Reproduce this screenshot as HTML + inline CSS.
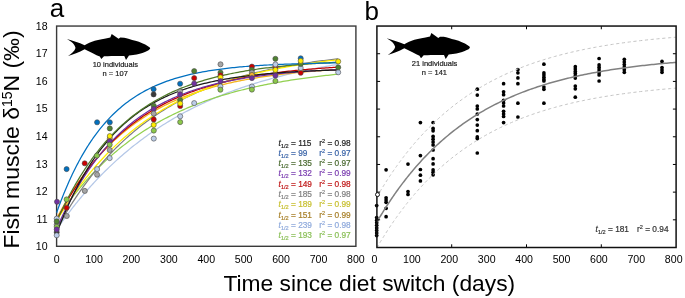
<!DOCTYPE html>
<html><head><meta charset="utf-8"><style>
html,body{margin:0;padding:0;background:#fff;overflow:hidden;}
svg{display:block;will-change:transform;}
</style></head><body>
<svg width="685" height="298" viewBox="0 0 685 298">
<rect width="685" height="298" fill="#fff"/>
<text x="49.8" y="16.7" font-size="26" font-family="Liberation Sans, sans-serif" fill="#000">a</text>
<text x="364.5" y="20" font-size="26" font-family="Liberation Sans, sans-serif" fill="#000">b</text>
<text x="47.6" y="250.10" font-size="10.6" text-anchor="end" font-family="Liberation Sans, sans-serif" fill="#000">10</text>
<text x="47.6" y="222.57" font-size="10.6" text-anchor="end" font-family="Liberation Sans, sans-serif" fill="#000">11</text>
<text x="47.6" y="195.04" font-size="10.6" text-anchor="end" font-family="Liberation Sans, sans-serif" fill="#000">12</text>
<text x="47.6" y="167.51" font-size="10.6" text-anchor="end" font-family="Liberation Sans, sans-serif" fill="#000">13</text>
<text x="47.6" y="139.98" font-size="10.6" text-anchor="end" font-family="Liberation Sans, sans-serif" fill="#000">14</text>
<text x="47.6" y="112.44" font-size="10.6" text-anchor="end" font-family="Liberation Sans, sans-serif" fill="#000">15</text>
<text x="47.6" y="84.91" font-size="10.6" text-anchor="end" font-family="Liberation Sans, sans-serif" fill="#000">16</text>
<text x="47.6" y="57.38" font-size="10.6" text-anchor="end" font-family="Liberation Sans, sans-serif" fill="#000">17</text>
<text x="47.6" y="29.85" font-size="10.6" text-anchor="end" font-family="Liberation Sans, sans-serif" fill="#000">18</text>
<text x="56.60" y="263.2" font-size="10.6" text-anchor="middle" font-family="Liberation Sans, sans-serif" fill="#000">0</text>
<text x="374.50" y="263.2" font-size="10.6" text-anchor="middle" font-family="Liberation Sans, sans-serif" fill="#000">0</text>
<text x="94.01" y="263.2" font-size="10.6" text-anchor="middle" font-family="Liberation Sans, sans-serif" fill="#000">100</text>
<text x="411.90" y="263.2" font-size="10.6" text-anchor="middle" font-family="Liberation Sans, sans-serif" fill="#000">100</text>
<text x="131.42" y="263.2" font-size="10.6" text-anchor="middle" font-family="Liberation Sans, sans-serif" fill="#000">200</text>
<text x="449.30" y="263.2" font-size="10.6" text-anchor="middle" font-family="Liberation Sans, sans-serif" fill="#000">200</text>
<text x="168.84" y="263.2" font-size="10.6" text-anchor="middle" font-family="Liberation Sans, sans-serif" fill="#000">300</text>
<text x="486.70" y="263.2" font-size="10.6" text-anchor="middle" font-family="Liberation Sans, sans-serif" fill="#000">300</text>
<text x="206.25" y="263.2" font-size="10.6" text-anchor="middle" font-family="Liberation Sans, sans-serif" fill="#000">400</text>
<text x="524.10" y="263.2" font-size="10.6" text-anchor="middle" font-family="Liberation Sans, sans-serif" fill="#000">400</text>
<text x="243.66" y="263.2" font-size="10.6" text-anchor="middle" font-family="Liberation Sans, sans-serif" fill="#000">500</text>
<text x="561.50" y="263.2" font-size="10.6" text-anchor="middle" font-family="Liberation Sans, sans-serif" fill="#000">500</text>
<text x="281.07" y="263.2" font-size="10.6" text-anchor="middle" font-family="Liberation Sans, sans-serif" fill="#000">600</text>
<text x="598.90" y="263.2" font-size="10.6" text-anchor="middle" font-family="Liberation Sans, sans-serif" fill="#000">600</text>
<text x="318.49" y="263.2" font-size="10.6" text-anchor="middle" font-family="Liberation Sans, sans-serif" fill="#000">700</text>
<text x="636.30" y="263.2" font-size="10.6" text-anchor="middle" font-family="Liberation Sans, sans-serif" fill="#000">700</text>
<text x="355.90" y="263.2" font-size="10.6" text-anchor="middle" font-family="Liberation Sans, sans-serif" fill="#000">800</text>
<text x="673.70" y="263.2" font-size="10.6" text-anchor="middle" font-family="Liberation Sans, sans-serif" fill="#000">800</text>
<text x="223.4" y="290.5" font-size="22.8" font-family="Liberation Sans, sans-serif" fill="#000">Time since diet switch (days)</text>
<text transform="translate(19.3,248.6) rotate(-90)" font-size="22.95" font-family="Liberation Sans, sans-serif" fill="#000">Fish muscle δ<tspan font-size="14" dy="-7.2">15</tspan><tspan dy="7.2">N (‰)</tspan></text>
<path d="M66.9,39.1 C72,40.4 79,42.8 84.6,45.2 C87.5,43.6 91,41.7 94.7,40.7 C99,39.6 104,38.8 110.3,37.5 L111.7,34.0 L118.6,38.8 L120.3,37.6 L124.1,37.7 C127,38.4 131,39.6 135.4,40.7 C140,42 145,44 147.6,46 C149.2,47 150.1,47.6 150.2,48.3 C149.9,49.4 149,50 147.6,50.7 C146,51.7 144,52.4 142.4,52.9 C139,54 135,54.8 129.0,55.4 L126.0,60.0 L124.3,56 C119,55.9 112,55.9 104,56.2 L101.3,59.1 L99.8,56.6 C96,55 90,51.8 84.6,49.2 C79,52.2 73,54.6 68.0,55.9 C71.5,53.6 74.8,51 75.5,47.9 C75,44.8 71.5,41.4 66.9,39.1 Z" transform="translate(0,0)" fill="#000"/>
<text x="115.4" y="66.6" font-size="7.5" text-anchor="middle" font-family="Liberation Sans, sans-serif" fill="#222" stroke="#222" stroke-width="0.2">10 individuals</text>
<text x="115.2" y="75.6" font-size="7.5" text-anchor="middle" font-family="Liberation Sans, sans-serif" fill="#222" stroke="#222" stroke-width="0.2">n = 107</text>
<path d="M66.9,39.1 C72,40.4 79,42.8 84.6,45.2 C87.5,43.6 91,41.7 94.7,40.7 C99,39.6 104,38.8 110.3,37.5 L111.7,34.0 L118.6,38.8 L120.3,37.6 L124.1,37.7 C127,38.4 131,39.6 135.4,40.7 C140,42 145,44 147.6,46 C149.2,47 150.1,47.6 150.2,48.3 C149.9,49.4 149,50 147.6,50.7 C146,51.7 144,52.4 142.4,52.9 C139,54 135,54.8 129.0,55.4 L126.0,60.0 L124.3,56 C119,55.9 112,55.9 104,56.2 L101.3,59.1 L99.8,56.6 C96,55 90,51.8 84.6,49.2 C79,52.2 73,54.6 68.0,55.9 C71.5,53.6 74.8,51 75.5,47.9 C75,44.8 71.5,41.4 66.9,39.1 Z" transform="translate(319.7,-0.9)" fill="#000"/>
<text x="434.6" y="66.1" font-size="7.5" text-anchor="middle" font-family="Liberation Sans, sans-serif" fill="#222" stroke="#222" stroke-width="0.2">21 individuals</text>
<text x="434.4" y="75.0" font-size="7.5" text-anchor="middle" font-family="Liberation Sans, sans-serif" fill="#222" stroke="#222" stroke-width="0.2">n = 141</text>
<rect x="56.6" y="26.05" width="299.30" height="220.25" fill="none" stroke="#3a3a3a" stroke-width="1.4"/>
<g fill="none" stroke-width="1.25" stroke-linejoin="round">
<path d="M56.60,229.51 L57.35,228.43 L58.10,227.36 L58.84,226.30 L59.59,225.24 L60.34,224.19 L61.09,223.14 L61.84,222.10 L62.59,221.07 L63.33,220.04 L64.08,219.02 L64.83,218.00 L65.58,216.99 L66.33,215.99 L67.08,214.99 L67.82,214.00 L68.57,213.01 L69.32,212.03 L70.07,211.05 L70.82,210.08 L71.56,209.12 L72.31,208.16 L73.06,207.21 L73.81,206.26 L74.56,205.32 L75.31,204.38 L76.05,203.45 L76.80,202.53 L77.55,201.61 L78.30,200.69 L79.05,199.78 L79.80,198.88 L80.54,197.98 L81.29,197.08 L82.04,196.19 L82.79,195.31 L83.54,194.43 L84.29,193.56 L85.03,192.69 L85.78,191.83 L86.53,190.97 L87.28,190.12 L88.03,189.27 L88.77,188.42 L89.52,187.58 L90.27,186.75 L91.02,185.92 L91.77,185.10 L92.52,184.28 L93.26,183.46 L94.01,182.65 L95.88,180.65 L97.75,178.67 L99.62,176.72 L101.49,174.80 L103.37,172.91 L105.24,171.05 L107.11,169.21 L108.98,167.40 L110.85,165.61 L112.72,163.85 L114.59,162.12 L116.46,160.41 L118.33,158.73 L120.20,157.07 L122.07,155.43 L123.94,153.82 L125.81,152.23 L127.68,150.66 L129.55,149.12 L131.42,147.59 L133.30,146.09 L135.17,144.62 L137.04,143.16 L138.91,141.72 L140.78,140.31 L142.65,138.91 L144.52,137.54 L146.39,136.18 L148.26,134.85 L150.13,133.53 L152.00,132.23 L153.87,130.95 L155.74,129.69 L157.61,128.45 L159.48,127.22 L161.35,126.02 L163.23,124.83 L165.10,123.66 L166.97,122.50 L168.84,121.36 L170.71,120.24 L172.58,119.13 L174.45,118.04 L176.32,116.97 L178.19,115.91 L180.06,114.86 L181.93,113.84 L183.80,112.82 L185.67,111.82 L187.54,110.84 L189.41,109.87 L191.28,108.91 L193.16,107.97 L195.03,107.04 L196.90,106.12 L198.77,105.22 L200.64,104.33 L202.51,103.45 L204.38,102.59 L206.25,101.73 L208.12,100.89 L209.99,100.07 L211.86,99.25 L213.73,98.45 L215.60,97.65 L217.47,96.87 L219.34,96.10 L221.21,95.34 L223.09,94.60 L224.96,93.86 L226.83,93.13 L228.70,92.42 L230.57,91.71 L232.44,91.01 L234.31,90.33 L236.18,89.65 L238.05,88.99 L239.92,88.33 L241.79,87.68 L243.66,87.05 L245.53,86.42 L247.40,85.80 L249.27,85.19 L251.14,84.59 L253.02,83.99 L254.89,83.41 L256.76,82.83 L258.63,82.27 L260.50,81.71 L262.37,81.15 L264.24,80.61 L266.11,80.07 L267.98,79.55 L269.85,79.03 L271.72,78.51 L273.59,78.01 L275.46,77.51 L277.33,77.02 L279.20,76.53 L281.07,76.06 L282.95,75.59 L284.82,75.12 L286.69,74.67 L288.56,74.22 L290.43,73.77 L292.30,73.34 L294.17,72.90 L296.04,72.48 L297.91,72.06 L299.78,71.65 L301.65,71.24 L303.52,70.84 L305.39,70.45 L307.26,70.06 L309.13,69.67 L311.00,69.29 L312.88,68.92 L314.75,68.55 L316.62,68.19 L318.49,67.83 L320.36,67.48 L322.23,67.14 L324.10,66.79 L325.97,66.46 L327.84,66.13 L329.71,65.80 L331.58,65.48 L333.45,65.16 L335.32,64.84 L337.19,64.54 L337.94,64.41" stroke="#b4c7e7"/>
<path d="M56.60,219.04 L57.35,217.93 L58.10,216.83 L58.84,215.73 L59.59,214.65 L60.34,213.57 L61.09,212.49 L61.84,211.43 L62.59,210.37 L63.33,209.32 L64.08,208.28 L64.83,207.25 L65.58,206.22 L66.33,205.20 L67.08,204.19 L67.82,203.18 L68.57,202.19 L69.32,201.20 L70.07,200.21 L70.82,199.24 L71.56,198.27 L72.31,197.30 L73.06,196.35 L73.81,195.40 L74.56,194.46 L75.31,193.52 L76.05,192.59 L76.80,191.67 L77.55,190.75 L78.30,189.85 L79.05,188.94 L79.80,188.05 L80.54,187.16 L81.29,186.28 L82.04,185.40 L82.79,184.53 L83.54,183.66 L84.29,182.81 L85.03,181.95 L85.78,181.11 L86.53,180.27 L87.28,179.43 L88.03,178.61 L88.77,177.78 L89.52,176.97 L90.27,176.16 L91.02,175.35 L91.77,174.55 L92.52,173.76 L93.26,172.97 L94.01,172.19 L95.88,170.26 L97.75,168.37 L99.62,166.51 L101.49,164.68 L103.37,162.88 L105.24,161.12 L107.11,159.39 L108.98,157.68 L110.85,156.01 L112.72,154.37 L114.59,152.76 L116.46,151.17 L118.33,149.62 L120.20,148.09 L122.07,146.59 L123.94,145.12 L125.81,143.67 L127.68,142.25 L129.55,140.85 L131.42,139.48 L133.30,138.13 L135.17,136.81 L137.04,135.51 L138.91,134.23 L140.78,132.98 L142.65,131.75 L144.52,130.54 L146.39,129.35 L148.26,128.18 L150.13,127.03 L152.00,125.91 L153.87,124.80 L155.74,123.72 L157.61,122.65 L159.48,121.60 L161.35,120.57 L163.23,119.56 L165.10,118.57 L166.97,117.59 L168.84,116.63 L170.71,115.69 L172.58,114.77 L174.45,113.86 L176.32,112.97 L178.19,112.09 L180.06,111.23 L181.93,110.39 L183.80,109.56 L185.67,108.75 L187.54,107.94 L189.41,107.16 L191.28,106.39 L193.16,105.63 L195.03,104.88 L196.90,104.15 L198.77,103.43 L200.64,102.73 L202.51,102.03 L204.38,101.35 L206.25,100.68 L208.12,100.03 L209.99,99.38 L211.86,98.75 L213.73,98.12 L215.60,97.51 L217.47,96.91 L219.34,96.32 L221.21,95.74 L223.09,95.17 L224.96,94.62 L226.83,94.07 L228.70,93.53 L230.57,93.00 L232.44,92.48 L234.31,91.97 L236.18,91.46 L238.05,90.97 L239.92,90.49 L241.79,90.01 L243.66,89.54 L245.53,89.09 L247.40,88.64 L249.27,88.19 L251.14,87.76 L253.02,87.33 L254.89,86.91 L256.76,86.50 L258.63,86.10 L260.50,85.70 L262.37,85.31 L264.24,84.92 L266.11,84.55 L267.98,84.18 L269.85,83.81 L271.72,83.46 L273.59,83.11 L275.46,82.76 L277.33,82.43 L279.20,82.09 L281.07,81.77 L282.95,81.45 L284.82,81.13 L286.69,80.82 L288.56,80.52 L290.43,80.22 L292.30,79.93 L294.17,79.64 L296.04,79.36 L297.91,79.08 L299.78,78.81 L301.65,78.54 L303.52,78.28 L305.39,78.02 L307.26,77.77 L309.13,77.52 L311.00,77.27 L312.88,77.03 L314.75,76.80 L316.62,76.56 L318.49,76.34 L320.36,76.11 L322.23,75.89 L324.10,75.68 L325.97,75.47 L327.84,75.26 L329.71,75.05 L331.58,74.85 L333.45,74.65 L335.32,74.46 L337.19,74.27 L337.94,74.20" stroke="#92d050"/>
<path d="M56.60,229.23 L57.35,227.88 L58.10,226.54 L58.84,225.20 L59.59,223.88 L60.34,222.57 L61.09,221.27 L61.84,219.97 L62.59,218.69 L63.33,217.42 L64.08,216.15 L64.83,214.90 L65.58,213.65 L66.33,212.42 L67.08,211.19 L67.82,209.97 L68.57,208.76 L69.32,207.56 L70.07,206.37 L70.82,205.19 L71.56,204.02 L72.31,202.85 L73.06,201.70 L73.81,200.55 L74.56,199.41 L75.31,198.28 L76.05,197.16 L76.80,196.05 L77.55,194.94 L78.30,193.85 L79.05,192.76 L79.80,191.68 L80.54,190.61 L81.29,189.54 L82.04,188.49 L82.79,187.44 L83.54,186.40 L84.29,185.37 L85.03,184.34 L85.78,183.32 L86.53,182.31 L87.28,181.31 L88.03,180.32 L88.77,179.33 L89.52,178.35 L90.27,177.38 L91.02,176.41 L91.77,175.45 L92.52,174.50 L93.26,173.56 L94.01,172.62 L95.88,170.31 L97.75,168.04 L99.62,165.82 L101.49,163.63 L103.37,161.49 L105.24,159.38 L107.11,157.31 L108.98,155.29 L110.85,153.30 L112.72,151.34 L114.59,149.43 L116.46,147.55 L118.33,145.70 L120.20,143.89 L122.07,142.11 L123.94,140.37 L125.81,138.65 L127.68,136.97 L129.55,135.32 L131.42,133.70 L133.30,132.11 L135.17,130.55 L137.04,129.02 L138.91,127.52 L140.78,126.05 L142.65,124.60 L144.52,123.18 L146.39,121.79 L148.26,120.42 L150.13,119.07 L152.00,117.76 L153.87,116.46 L155.74,115.19 L157.61,113.95 L159.48,112.73 L161.35,111.53 L163.23,110.35 L165.10,109.19 L166.97,108.06 L168.84,106.95 L170.71,105.85 L172.58,104.78 L174.45,103.73 L176.32,102.69 L178.19,101.68 L180.06,100.69 L181.93,99.71 L183.80,98.75 L185.67,97.81 L187.54,96.89 L189.41,95.98 L191.28,95.09 L193.16,94.22 L195.03,93.36 L196.90,92.52 L198.77,91.70 L200.64,90.89 L202.51,90.09 L204.38,89.31 L206.25,88.55 L208.12,87.80 L209.99,87.06 L211.86,86.34 L213.73,85.63 L215.60,84.93 L217.47,84.25 L219.34,83.57 L221.21,82.92 L223.09,82.27 L224.96,81.63 L226.83,81.01 L228.70,80.40 L230.57,79.80 L232.44,79.21 L234.31,78.63 L236.18,78.07 L238.05,77.51 L239.92,76.96 L241.79,76.43 L243.66,75.90 L245.53,75.38 L247.40,74.88 L249.27,74.38 L251.14,73.89 L253.02,73.41 L254.89,72.94 L256.76,72.48 L258.63,72.03 L260.50,71.58 L262.37,71.15 L264.24,70.72 L266.11,70.30 L267.98,69.89 L269.85,69.48 L271.72,69.08 L273.59,68.69 L275.46,68.31 L277.33,67.94 L279.20,67.57 L281.07,67.21 L282.95,66.85 L284.82,66.50 L286.69,66.16 L288.56,65.82 L290.43,65.50 L292.30,65.17 L294.17,64.85 L296.04,64.54 L297.91,64.24 L299.78,63.94 L301.65,63.64 L303.52,63.35 L305.39,63.07 L307.26,62.79 L309.13,62.52 L311.00,62.25 L312.88,61.99 L314.75,61.73 L316.62,61.48 L318.49,61.23 L320.36,60.98 L322.23,60.74 L324.10,60.51 L325.97,60.28 L327.84,60.05 L329.71,59.83 L331.58,59.61 L333.45,59.40 L335.32,59.19 L337.19,58.98 L337.94,58.90" stroke="#7f7f7f"/>
<path d="M56.60,218.49 L57.35,217.09 L58.10,215.69 L58.84,214.31 L59.59,212.94 L60.34,211.59 L61.09,210.25 L61.84,208.91 L62.59,207.60 L63.33,206.29 L64.08,204.99 L64.83,203.71 L65.58,202.44 L66.33,201.18 L67.08,199.93 L67.82,198.69 L68.57,197.47 L69.32,196.25 L70.07,195.05 L70.82,193.86 L71.56,192.68 L72.31,191.51 L73.06,190.35 L73.81,189.20 L74.56,188.06 L75.31,186.93 L76.05,185.81 L76.80,184.71 L77.55,183.61 L78.30,182.52 L79.05,181.44 L79.80,180.37 L80.54,179.32 L81.29,178.27 L82.04,177.23 L82.79,176.20 L83.54,175.18 L84.29,174.17 L85.03,173.17 L85.78,172.18 L86.53,171.19 L87.28,170.22 L88.03,169.25 L88.77,168.30 L89.52,167.35 L90.27,166.41 L91.02,165.48 L91.77,164.56 L92.52,163.64 L93.26,162.74 L94.01,161.84 L95.88,159.64 L97.75,157.48 L99.62,155.37 L101.49,153.31 L103.37,151.30 L105.24,149.33 L107.11,147.41 L108.98,145.53 L110.85,143.69 L112.72,141.90 L114.59,140.14 L116.46,138.43 L118.33,136.75 L120.20,135.12 L122.07,133.52 L123.94,131.95 L125.81,130.42 L127.68,128.93 L129.55,127.47 L131.42,126.04 L133.30,124.65 L135.17,123.29 L137.04,121.96 L138.91,120.65 L140.78,119.38 L142.65,118.14 L144.52,116.92 L146.39,115.74 L148.26,114.58 L150.13,113.44 L152.00,112.33 L153.87,111.25 L155.74,110.19 L157.61,109.16 L159.48,108.15 L161.35,107.16 L163.23,106.19 L165.10,105.25 L166.97,104.33 L168.84,103.42 L170.71,102.54 L172.58,101.68 L174.45,100.84 L176.32,100.02 L178.19,99.21 L180.06,98.43 L181.93,97.66 L183.80,96.91 L185.67,96.18 L187.54,95.46 L189.41,94.76 L191.28,94.08 L193.16,93.41 L195.03,92.75 L196.90,92.11 L198.77,91.49 L200.64,90.88 L202.51,90.28 L204.38,89.70 L206.25,89.13 L208.12,88.57 L209.99,88.03 L211.86,87.50 L213.73,86.98 L215.60,86.47 L217.47,85.97 L219.34,85.49 L221.21,85.01 L223.09,84.55 L224.96,84.10 L226.83,83.66 L228.70,83.22 L230.57,82.80 L232.44,82.39 L234.31,81.98 L236.18,81.59 L238.05,81.20 L239.92,80.83 L241.79,80.46 L243.66,80.10 L245.53,79.75 L247.40,79.40 L249.27,79.07 L251.14,78.74 L253.02,78.42 L254.89,78.10 L256.76,77.80 L258.63,77.50 L260.50,77.20 L262.37,76.92 L264.24,76.64 L266.11,76.37 L267.98,76.10 L269.85,75.84 L271.72,75.58 L273.59,75.33 L275.46,75.09 L277.33,74.85 L279.20,74.62 L281.07,74.39 L282.95,74.17 L284.82,73.95 L286.69,73.74 L288.56,73.53 L290.43,73.33 L292.30,73.13 L294.17,72.94 L296.04,72.75 L297.91,72.56 L299.78,72.38 L301.65,72.20 L303.52,72.03 L305.39,71.86 L307.26,71.70 L309.13,71.54 L311.00,71.38 L312.88,71.23 L314.75,71.08 L316.62,70.93 L318.49,70.78 L320.36,70.64 L322.23,70.51 L324.10,70.37 L325.97,70.24 L327.84,70.11 L329.71,69.99 L331.58,69.87 L333.45,69.75 L335.32,69.63 L337.19,69.51 L337.94,69.47" stroke="#f5b21a"/>
<path d="M56.60,220.97 L57.35,219.71 L58.10,218.47 L58.84,217.23 L59.59,216.00 L60.34,214.77 L61.09,213.56 L61.84,212.36 L62.59,211.16 L63.33,209.98 L64.08,208.80 L64.83,207.63 L65.58,206.47 L66.33,205.32 L67.08,204.18 L67.82,203.04 L68.57,201.92 L69.32,200.80 L70.07,199.69 L70.82,198.59 L71.56,197.49 L72.31,196.41 L73.06,195.33 L73.81,194.26 L74.56,193.20 L75.31,192.14 L76.05,191.10 L76.80,190.06 L77.55,189.02 L78.30,188.00 L79.05,186.98 L79.80,185.98 L80.54,184.97 L81.29,183.98 L82.04,182.99 L82.79,182.01 L83.54,181.04 L84.29,180.07 L85.03,179.11 L85.78,178.16 L86.53,177.22 L87.28,176.28 L88.03,175.35 L88.77,174.43 L89.52,173.51 L90.27,172.60 L91.02,171.69 L91.77,170.80 L92.52,169.91 L93.26,169.02 L94.01,168.14 L95.88,165.98 L97.75,163.85 L99.62,161.76 L101.49,159.71 L103.37,157.70 L105.24,155.72 L107.11,153.78 L108.98,151.87 L110.85,150.00 L112.72,148.17 L114.59,146.36 L116.46,144.59 L118.33,142.85 L120.20,141.14 L122.07,139.47 L123.94,137.82 L125.81,136.21 L127.68,134.62 L129.55,133.06 L131.42,131.53 L133.30,130.03 L135.17,128.56 L137.04,127.11 L138.91,125.69 L140.78,124.29 L142.65,122.93 L144.52,121.58 L146.39,120.26 L148.26,118.96 L150.13,117.69 L152.00,116.44 L153.87,115.21 L155.74,114.01 L157.61,112.82 L159.48,111.66 L161.35,110.52 L163.23,109.40 L165.10,108.30 L166.97,107.22 L168.84,106.16 L170.71,105.12 L172.58,104.10 L174.45,103.10 L176.32,102.11 L178.19,101.15 L180.06,100.20 L181.93,99.27 L183.80,98.35 L185.67,97.45 L187.54,96.57 L189.41,95.70 L191.28,94.85 L193.16,94.02 L195.03,93.20 L196.90,92.39 L198.77,91.60 L200.64,90.83 L202.51,90.07 L204.38,89.32 L206.25,88.58 L208.12,87.86 L209.99,87.16 L211.86,86.46 L213.73,85.78 L215.60,85.11 L217.47,84.45 L219.34,83.80 L221.21,83.17 L223.09,82.55 L224.96,81.94 L226.83,81.34 L228.70,80.75 L230.57,80.17 L232.44,79.60 L234.31,79.04 L236.18,78.49 L238.05,77.96 L239.92,77.43 L241.79,76.91 L243.66,76.40 L245.53,75.90 L247.40,75.41 L249.27,74.93 L251.14,74.46 L253.02,73.99 L254.89,73.54 L256.76,73.09 L258.63,72.65 L260.50,72.22 L262.37,71.79 L264.24,71.38 L266.11,70.97 L267.98,70.57 L269.85,70.17 L271.72,69.79 L273.59,69.41 L275.46,69.04 L277.33,68.67 L279.20,68.31 L281.07,67.96 L282.95,67.61 L284.82,67.27 L286.69,66.94 L288.56,66.61 L290.43,66.29 L292.30,65.97 L294.17,65.66 L296.04,65.36 L297.91,65.06 L299.78,64.77 L301.65,64.48 L303.52,64.19 L305.39,63.92 L307.26,63.64 L309.13,63.38 L311.00,63.11 L312.88,62.85 L314.75,62.60 L316.62,62.35 L318.49,62.11 L320.36,61.87 L322.23,61.63 L324.10,61.40 L325.97,61.17 L327.84,60.95 L329.71,60.73 L331.58,60.52 L333.45,60.31 L335.32,60.10 L337.19,59.89 L337.94,59.81" stroke="#ffee00"/>
<path d="M56.60,220.42 L57.35,218.96 L58.10,217.51 L58.84,216.07 L59.59,214.65 L60.34,213.24 L61.09,211.84 L61.84,210.46 L62.59,209.09 L63.33,207.73 L64.08,206.38 L64.83,205.05 L65.58,203.73 L66.33,202.42 L67.08,201.12 L67.82,199.84 L68.57,198.56 L69.32,197.30 L70.07,196.05 L70.82,194.81 L71.56,193.59 L72.31,192.37 L73.06,191.17 L73.81,189.98 L74.56,188.80 L75.31,187.62 L76.05,186.47 L76.80,185.32 L77.55,184.18 L78.30,183.05 L79.05,181.93 L79.80,180.83 L80.54,179.73 L81.29,178.64 L82.04,177.57 L82.79,176.50 L83.54,175.44 L84.29,174.40 L85.03,173.36 L85.78,172.33 L86.53,171.31 L87.28,170.30 L88.03,169.30 L88.77,168.31 L89.52,167.33 L90.27,166.36 L91.02,165.40 L91.77,164.44 L92.52,163.50 L93.26,162.56 L94.01,161.64 L95.88,159.35 L97.75,157.12 L99.62,154.95 L101.49,152.82 L103.37,150.74 L105.24,148.71 L107.11,146.72 L108.98,144.78 L110.85,142.89 L112.72,141.04 L114.59,139.23 L116.46,137.46 L118.33,135.74 L120.20,134.05 L122.07,132.40 L123.94,130.79 L125.81,129.22 L127.68,127.69 L129.55,126.18 L131.42,124.72 L133.30,123.28 L135.17,121.88 L137.04,120.52 L138.91,119.18 L140.78,117.87 L142.65,116.60 L144.52,115.35 L146.39,114.13 L148.26,112.95 L150.13,111.78 L152.00,110.65 L153.87,109.54 L155.74,108.45 L157.61,107.39 L159.48,106.36 L161.35,105.35 L163.23,104.36 L165.10,103.40 L166.97,102.45 L168.84,101.53 L170.71,100.63 L172.58,99.75 L174.45,98.89 L176.32,98.06 L178.19,97.24 L180.06,96.43 L181.93,95.65 L183.80,94.89 L185.67,94.14 L187.54,93.41 L189.41,92.70 L191.28,92.00 L193.16,91.32 L195.03,90.65 L196.90,90.00 L198.77,89.37 L200.64,88.75 L202.51,88.14 L204.38,87.55 L206.25,86.97 L208.12,86.41 L209.99,85.86 L211.86,85.32 L213.73,84.79 L215.60,84.27 L217.47,83.77 L219.34,83.28 L221.21,82.80 L223.09,82.33 L224.96,81.87 L226.83,81.42 L228.70,80.99 L230.57,80.56 L232.44,80.14 L234.31,79.73 L236.18,79.33 L238.05,78.94 L239.92,78.56 L241.79,78.19 L243.66,77.83 L245.53,77.47 L247.40,77.13 L249.27,76.79 L251.14,76.46 L253.02,76.13 L254.89,75.82 L256.76,75.51 L258.63,75.21 L260.50,74.91 L262.37,74.62 L264.24,74.34 L266.11,74.07 L267.98,73.80 L269.85,73.54 L271.72,73.28 L273.59,73.03 L275.46,72.79 L277.33,72.55 L279.20,72.31 L281.07,72.09 L282.95,71.86 L284.82,71.65 L286.69,71.43 L288.56,71.22 L290.43,71.02 L292.30,70.82 L294.17,70.63 L296.04,70.44 L297.91,70.25 L299.78,70.07 L301.65,69.90 L303.52,69.72 L305.39,69.56 L307.26,69.39 L309.13,69.23 L311.00,69.07 L312.88,68.92 L314.75,68.77 L316.62,68.62 L318.49,68.48 L320.36,68.34 L322.23,68.20 L324.10,68.07 L325.97,67.94 L327.84,67.81 L329.71,67.69 L331.58,67.56 L333.45,67.45 L335.32,67.33 L337.19,67.22 L337.94,67.17" stroke="#c00000"/>
<path d="M56.60,228.68 L57.35,226.99 L58.10,225.31 L58.84,223.65 L59.59,222.01 L60.34,220.38 L61.09,218.78 L61.84,217.19 L62.59,215.61 L63.33,214.05 L64.08,212.51 L64.83,210.99 L65.58,209.48 L66.33,207.99 L67.08,206.51 L67.82,205.05 L68.57,203.60 L69.32,202.17 L70.07,200.75 L70.82,199.35 L71.56,197.96 L72.31,196.59 L73.06,195.23 L73.81,193.88 L74.56,192.55 L75.31,191.23 L76.05,189.93 L76.80,188.64 L77.55,187.37 L78.30,186.10 L79.05,184.85 L79.80,183.62 L80.54,182.40 L81.29,181.18 L82.04,179.99 L82.79,178.80 L83.54,177.63 L84.29,176.47 L85.03,175.32 L85.78,174.18 L86.53,173.06 L87.28,171.94 L88.03,170.84 L88.77,169.75 L89.52,168.67 L90.27,167.61 L91.02,166.55 L91.77,165.51 L92.52,164.47 L93.26,163.45 L94.01,162.44 L95.88,159.95 L97.75,157.53 L99.62,155.17 L101.49,152.87 L103.37,150.64 L105.24,148.46 L107.11,146.33 L108.98,144.26 L110.85,142.25 L112.72,140.29 L114.59,138.38 L116.46,136.51 L118.33,134.70 L120.20,132.93 L122.07,131.21 L123.94,129.54 L125.81,127.90 L127.68,126.31 L129.55,124.76 L131.42,123.25 L133.30,121.78 L135.17,120.35 L137.04,118.96 L138.91,117.60 L140.78,116.27 L142.65,114.98 L144.52,113.73 L146.39,112.51 L148.26,111.31 L150.13,110.15 L152.00,109.02 L153.87,107.92 L155.74,106.85 L157.61,105.80 L159.48,104.79 L161.35,103.79 L163.23,102.83 L165.10,101.89 L166.97,100.97 L168.84,100.08 L170.71,99.21 L172.58,98.36 L174.45,97.54 L176.32,96.73 L178.19,95.95 L180.06,95.19 L181.93,94.44 L183.80,93.72 L185.67,93.02 L187.54,92.33 L189.41,91.66 L191.28,91.01 L193.16,90.37 L195.03,89.76 L196.90,89.15 L198.77,88.57 L200.64,88.00 L202.51,87.44 L204.38,86.90 L206.25,86.37 L208.12,85.86 L209.99,85.35 L211.86,84.87 L213.73,84.39 L215.60,83.93 L217.47,83.48 L219.34,83.04 L221.21,82.61 L223.09,82.19 L224.96,81.79 L226.83,81.39 L228.70,81.01 L230.57,80.63 L232.44,80.26 L234.31,79.91 L236.18,79.56 L238.05,79.22 L239.92,78.89 L241.79,78.57 L243.66,78.26 L245.53,77.96 L247.40,77.66 L249.27,77.37 L251.14,77.09 L253.02,76.82 L254.89,76.55 L256.76,76.29 L258.63,76.04 L260.50,75.79 L262.37,75.55 L264.24,75.32 L266.11,75.09 L267.98,74.87 L269.85,74.65 L271.72,74.44 L273.59,74.23 L275.46,74.03 L277.33,73.84 L279.20,73.65 L281.07,73.47 L282.95,73.29 L284.82,73.11 L286.69,72.94 L288.56,72.77 L290.43,72.61 L292.30,72.45 L294.17,72.30 L296.04,72.15 L297.91,72.00 L299.78,71.86 L301.65,71.72 L303.52,71.59 L305.39,71.46 L307.26,71.33 L309.13,71.20 L311.00,71.08 L312.88,70.96 L314.75,70.85 L316.62,70.74 L318.49,70.63 L320.36,70.52 L322.23,70.42 L324.10,70.32 L325.97,70.22 L327.84,70.12 L329.71,70.03 L331.58,69.94 L333.45,69.85 L335.32,69.76 L337.19,69.68 L337.94,69.65" stroke="#7030a0"/>
<path d="M56.60,233.64 L57.35,231.65 L58.10,229.69 L58.84,227.76 L59.59,225.85 L60.34,223.96 L61.09,222.09 L61.84,220.25 L62.59,218.42 L63.33,216.62 L64.08,214.84 L64.83,213.09 L65.58,211.35 L66.33,209.64 L67.08,207.94 L67.82,206.27 L68.57,204.61 L69.32,202.98 L70.07,201.36 L70.82,199.76 L71.56,198.19 L72.31,196.63 L73.06,195.09 L73.81,193.57 L74.56,192.07 L75.31,190.58 L76.05,189.12 L76.80,187.67 L77.55,186.24 L78.30,184.82 L79.05,183.42 L79.80,182.04 L80.54,180.68 L81.29,179.33 L82.04,178.00 L82.79,176.68 L83.54,175.38 L84.29,174.10 L85.03,172.83 L85.78,171.57 L86.53,170.33 L87.28,169.11 L88.03,167.90 L88.77,166.71 L89.52,165.53 L90.27,164.36 L91.02,163.21 L91.77,162.07 L92.52,160.94 L93.26,159.83 L94.01,158.73 L95.88,156.04 L97.75,153.44 L99.62,150.90 L101.49,148.45 L103.37,146.06 L105.24,143.75 L107.11,141.51 L108.98,139.33 L110.85,137.22 L112.72,135.17 L114.59,133.18 L116.46,131.25 L118.33,129.38 L120.20,127.56 L122.07,125.80 L123.94,124.09 L125.81,122.43 L127.68,120.82 L129.55,119.25 L131.42,117.74 L133.30,116.27 L135.17,114.84 L137.04,113.45 L138.91,112.11 L140.78,110.80 L142.65,109.54 L144.52,108.31 L146.39,107.12 L148.26,105.96 L150.13,104.84 L152.00,103.75 L153.87,102.70 L155.74,101.67 L157.61,100.68 L159.48,99.71 L161.35,98.78 L163.23,97.87 L165.10,96.99 L166.97,96.13 L168.84,95.30 L170.71,94.49 L172.58,93.71 L174.45,92.96 L176.32,92.22 L178.19,91.51 L180.06,90.81 L181.93,90.14 L183.80,89.49 L185.67,88.86 L187.54,88.24 L189.41,87.65 L191.28,87.07 L193.16,86.51 L195.03,85.96 L196.90,85.43 L198.77,84.92 L200.64,84.42 L202.51,83.94 L204.38,83.47 L206.25,83.02 L208.12,82.58 L209.99,82.15 L211.86,81.74 L213.73,81.33 L215.60,80.94 L217.47,80.56 L219.34,80.20 L221.21,79.84 L223.09,79.49 L224.96,79.16 L226.83,78.83 L228.70,78.51 L230.57,78.21 L232.44,77.91 L234.31,77.62 L236.18,77.34 L238.05,77.07 L239.92,76.80 L241.79,76.55 L243.66,76.30 L245.53,76.06 L247.40,75.82 L249.27,75.60 L251.14,75.38 L253.02,75.16 L254.89,74.95 L256.76,74.75 L258.63,74.56 L260.50,74.37 L262.37,74.18 L264.24,74.01 L266.11,73.83 L267.98,73.66 L269.85,73.50 L271.72,73.34 L273.59,73.19 L275.46,73.04 L277.33,72.90 L279.20,72.76 L281.07,72.62 L282.95,72.49 L284.82,72.36 L286.69,72.24 L288.56,72.12 L290.43,72.00 L292.30,71.88 L294.17,71.77 L296.04,71.67 L297.91,71.56 L299.78,71.46 L301.65,71.37 L303.52,71.27 L305.39,71.18 L307.26,71.09 L309.13,71.00 L311.00,70.92 L312.88,70.84 L314.75,70.76 L316.62,70.68 L318.49,70.61 L320.36,70.53 L322.23,70.46 L324.10,70.40 L325.97,70.33 L327.84,70.27 L329.71,70.20 L331.58,70.14 L333.45,70.09 L335.32,70.03 L337.19,69.97 L337.94,69.95" stroke="#1a1a1a"/>
<path d="M56.60,221.52 L57.35,219.86 L58.10,218.21 L58.84,216.59 L59.59,214.97 L60.34,213.38 L61.09,211.80 L61.84,210.24 L62.59,208.69 L63.33,207.16 L64.08,205.64 L64.83,204.14 L65.58,202.66 L66.33,201.19 L67.08,199.73 L67.82,198.29 L68.57,196.87 L69.32,195.46 L70.07,194.06 L70.82,192.68 L71.56,191.31 L72.31,189.96 L73.06,188.62 L73.81,187.29 L74.56,185.98 L75.31,184.68 L76.05,183.40 L76.80,182.12 L77.55,180.86 L78.30,179.62 L79.05,178.38 L79.80,177.16 L80.54,175.95 L81.29,174.75 L82.04,173.57 L82.79,172.40 L83.54,171.24 L84.29,170.09 L85.03,168.95 L85.78,167.83 L86.53,166.71 L87.28,165.61 L88.03,164.52 L88.77,163.44 L89.52,162.37 L90.27,161.31 L91.02,160.27 L91.77,159.23 L92.52,158.20 L93.26,157.19 L94.01,156.18 L95.88,153.71 L97.75,151.31 L99.62,148.97 L101.49,146.68 L103.37,144.45 L105.24,142.28 L107.11,140.17 L108.98,138.11 L110.85,136.10 L112.72,134.14 L114.59,132.23 L116.46,130.37 L118.33,128.55 L120.20,126.79 L122.07,125.06 L123.94,123.38 L125.81,121.75 L127.68,120.15 L129.55,118.60 L131.42,117.08 L133.30,115.61 L135.17,114.17 L137.04,112.76 L138.91,111.40 L140.78,110.06 L142.65,108.76 L144.52,107.50 L146.39,106.26 L148.26,105.06 L150.13,103.89 L152.00,102.75 L153.87,101.63 L155.74,100.55 L157.61,99.49 L159.48,98.46 L161.35,97.45 L163.23,96.47 L165.10,95.52 L166.97,94.59 L168.84,93.68 L170.71,92.80 L172.58,91.94 L174.45,91.10 L176.32,90.28 L178.19,89.48 L180.06,88.70 L181.93,87.95 L183.80,87.21 L185.67,86.49 L187.54,85.79 L189.41,85.10 L191.28,84.44 L193.16,83.79 L195.03,83.15 L196.90,82.54 L198.77,81.94 L200.64,81.35 L202.51,80.78 L204.38,80.22 L206.25,79.68 L208.12,79.15 L209.99,78.64 L211.86,78.13 L213.73,77.64 L215.60,77.17 L217.47,76.70 L219.34,76.25 L221.21,75.81 L223.09,75.37 L224.96,74.96 L226.83,74.55 L228.70,74.15 L230.57,73.76 L232.44,73.38 L234.31,73.01 L236.18,72.65 L238.05,72.30 L239.92,71.96 L241.79,71.62 L243.66,71.30 L245.53,70.98 L247.40,70.68 L249.27,70.37 L251.14,70.08 L253.02,69.80 L254.89,69.52 L256.76,69.25 L258.63,68.98 L260.50,68.72 L262.37,68.47 L264.24,68.23 L266.11,67.99 L267.98,67.76 L269.85,67.53 L271.72,67.31 L273.59,67.09 L275.46,66.88 L277.33,66.68 L279.20,66.48 L281.07,66.29 L282.95,66.10 L284.82,65.91 L286.69,65.73 L288.56,65.56 L290.43,65.39 L292.30,65.22 L294.17,65.06 L296.04,64.90 L297.91,64.74 L299.78,64.59 L301.65,64.45 L303.52,64.30 L305.39,64.16 L307.26,64.03 L309.13,63.90 L311.00,63.77 L312.88,63.64 L314.75,63.52 L316.62,63.40 L318.49,63.28 L320.36,63.17 L322.23,63.06 L324.10,62.95 L325.97,62.85 L327.84,62.75 L329.71,62.65 L331.58,62.55 L333.45,62.45 L335.32,62.36 L337.19,62.27 L337.94,62.24" stroke="#4f7a28"/>
<path d="M56.60,212.71 L57.35,210.62 L58.10,208.55 L58.84,206.52 L59.59,204.51 L60.34,202.53 L61.09,200.58 L61.84,198.65 L62.59,196.75 L63.33,194.88 L64.08,193.03 L64.83,191.21 L65.58,189.42 L66.33,187.65 L67.08,185.90 L67.82,184.18 L68.57,182.48 L69.32,180.81 L70.07,179.16 L70.82,177.53 L71.56,175.93 L72.31,174.34 L73.06,172.78 L73.81,171.25 L74.56,169.73 L75.31,168.23 L76.05,166.76 L76.80,165.30 L77.55,163.87 L78.30,162.45 L79.05,161.06 L79.80,159.68 L80.54,158.32 L81.29,156.99 L82.04,155.67 L82.79,154.37 L83.54,153.08 L84.29,151.82 L85.03,150.57 L85.78,149.34 L86.53,148.13 L87.28,146.93 L88.03,145.75 L88.77,144.59 L89.52,143.44 L90.27,142.31 L91.02,141.20 L91.77,140.10 L92.52,139.01 L93.26,137.94 L94.01,136.89 L95.88,134.32 L97.75,131.83 L99.62,129.43 L101.49,127.12 L103.37,124.88 L105.24,122.72 L107.11,120.64 L108.98,118.62 L110.85,116.68 L112.72,114.80 L114.59,112.99 L116.46,111.24 L118.33,109.55 L120.20,107.92 L122.07,106.34 L123.94,104.82 L125.81,103.35 L127.68,101.93 L129.55,100.56 L131.42,99.24 L133.30,97.96 L135.17,96.73 L137.04,95.54 L138.91,94.39 L140.78,93.28 L142.65,92.21 L144.52,91.17 L146.39,90.17 L148.26,89.21 L150.13,88.28 L152.00,87.38 L153.87,86.51 L155.74,85.67 L157.61,84.86 L159.48,84.08 L161.35,83.32 L163.23,82.59 L165.10,81.89 L166.97,81.21 L168.84,80.55 L170.71,79.92 L172.58,79.30 L174.45,78.71 L176.32,78.14 L178.19,77.59 L180.06,77.06 L181.93,76.54 L183.80,76.05 L185.67,75.57 L187.54,75.10 L189.41,74.66 L191.28,74.23 L193.16,73.81 L195.03,73.41 L196.90,73.02 L198.77,72.64 L200.64,72.28 L202.51,71.93 L204.38,71.59 L206.25,71.27 L208.12,70.95 L209.99,70.65 L211.86,70.36 L213.73,70.07 L215.60,69.80 L217.47,69.53 L219.34,69.28 L221.21,69.03 L223.09,68.79 L224.96,68.56 L226.83,68.34 L228.70,68.13 L230.57,67.92 L232.44,67.72 L234.31,67.53 L236.18,67.34 L238.05,67.16 L239.92,66.99 L241.79,66.82 L243.66,66.66 L245.53,66.50 L247.40,66.35 L249.27,66.21 L251.14,66.07 L253.02,65.93 L254.89,65.80 L256.76,65.67 L258.63,65.55 L260.50,65.43 L262.37,65.32 L264.24,65.21 L266.11,65.10 L267.98,65.00 L269.85,64.90 L271.72,64.80 L273.59,64.71 L275.46,64.62 L277.33,64.54 L279.20,64.45 L281.07,64.37 L282.95,64.29 L284.82,64.22 L286.69,64.15 L288.56,64.08 L290.43,64.01 L292.30,63.94 L294.17,63.88 L296.04,63.82 L297.91,63.76 L299.78,63.71 L301.65,63.65 L303.52,63.60 L305.39,63.55 L307.26,63.50 L309.13,63.45 L311.00,63.40 L312.88,63.36 L314.75,63.32 L316.62,63.28 L318.49,63.24 L320.36,63.20 L322.23,63.16 L324.10,63.12 L325.97,63.09 L327.84,63.06 L329.71,63.02 L331.58,62.99 L333.45,62.96 L335.32,62.93 L337.19,62.91 L337.94,62.89" stroke="#0070c0"/>
</g>
<g stroke="#4a4a4a" stroke-width="0.6">
<circle cx="57" cy="201.8" r="2.55" fill="#7030a0"/>
<circle cx="56.7" cy="224.7" r="2.55" fill="#a6a6a6"/>
<circle cx="56.7" cy="226.8" r="2.55" fill="#8cc84a"/>
<circle cx="56.7" cy="232.2" r="2.55" fill="#3a3a3a"/>
<circle cx="56.7" cy="218.6" r="2.55" fill="#bccde9"/>
<circle cx="56.7" cy="221.4" r="2.55" fill="#508232"/>
<circle cx="56.7" cy="229.4" r="2.55" fill="#7030a0"/>
<circle cx="56.7" cy="235.3" r="2.55" fill="#bccde9"/>
<circle cx="66.6" cy="169.1" r="2.55" fill="#0070c0"/>
<circle cx="66.6" cy="199.4" r="2.55" fill="#8cc84a"/>
<circle cx="66.6" cy="207.7" r="2.55" fill="#cc0000"/>
<circle cx="66.8" cy="216.0" r="2.55" fill="#a6a6a6"/>
<circle cx="84.7" cy="163.3" r="2.55" fill="#cc0000"/>
<circle cx="84.8" cy="190.9" r="2.55" fill="#a6a6a6"/>
<circle cx="97.1" cy="122.3" r="2.55" fill="#0070c0"/>
<circle cx="96.9" cy="155.6" r="2.55" fill="#8cc84a"/>
<circle cx="97.1" cy="169.1" r="2.55" fill="#bccde9"/>
<circle cx="97.1" cy="174.7" r="2.55" fill="#a6a6a6"/>
<circle cx="109.8" cy="122.3" r="2.55" fill="#0070c0"/>
<circle cx="109.8" cy="128.4" r="2.55" fill="#508232"/>
<circle cx="109.8" cy="138.5" r="2.55" fill="#f0b030"/>
<circle cx="109.8" cy="136.1" r="2.55" fill="#ffee00"/>
<circle cx="109.7" cy="141.3" r="2.55" fill="#7030a0"/>
<circle cx="109.7" cy="144.7" r="2.55" fill="#8cc84a"/>
<circle cx="109.7" cy="150.0" r="2.55" fill="#a6a6a6"/>
<circle cx="109.7" cy="158.1" r="2.55" fill="#bccde9"/>
<circle cx="153.6" cy="89.2" r="2.55" fill="#0070c0"/>
<circle cx="153.6" cy="94.4" r="2.55" fill="#3a3a3a"/>
<circle cx="153.7" cy="105.7" r="2.55" fill="#508232"/>
<circle cx="153.7" cy="109.0" r="2.55" fill="#7030a0"/>
<circle cx="153.7" cy="113.6" r="2.55" fill="#a6a6a6"/>
<circle cx="153.7" cy="119.4" r="2.55" fill="#cc0000"/>
<circle cx="153.7" cy="124.9" r="2.55" fill="#ffee00"/>
<circle cx="153.8" cy="130.6" r="2.55" fill="#8cc84a"/>
<circle cx="153.8" cy="138.6" r="2.55" fill="#bccde9"/>
<circle cx="180.1" cy="83.7" r="2.55" fill="#0070c0"/>
<circle cx="180.1" cy="91.4" r="2.55" fill="#a6a6a6"/>
<circle cx="180.1" cy="94.4" r="2.55" fill="#7030a0"/>
<circle cx="180.1" cy="100.0" r="2.55" fill="#508232"/>
<circle cx="180.2" cy="106.0" r="2.55" fill="#cc0000"/>
<circle cx="180.2" cy="103.5" r="2.55" fill="#ffee00"/>
<circle cx="180.2" cy="116.3" r="2.55" fill="#bccde9"/>
<circle cx="180.2" cy="122.1" r="2.55" fill="#8cc84a"/>
<circle cx="194.2" cy="71.1" r="2.55" fill="#508232"/>
<circle cx="194.2" cy="78.1" r="2.55" fill="#cc0000"/>
<circle cx="194.2" cy="83.5" r="2.55" fill="#7030a0"/>
<circle cx="194.2" cy="103.1" r="2.55" fill="#bccde9"/>
<circle cx="220.5" cy="64.3" r="2.55" fill="#a6a6a6"/>
<circle cx="220.5" cy="72.6" r="2.55" fill="#508232"/>
<circle cx="220.5" cy="75.2" r="2.55" fill="#cc0000"/>
<circle cx="220.5" cy="77.4" r="2.55" fill="#ffee00"/>
<circle cx="220.5" cy="81.1" r="2.55" fill="#7030a0"/>
<circle cx="220.4" cy="86.5" r="2.55" fill="#bccde9"/>
<circle cx="220.4" cy="89.7" r="2.55" fill="#8cc84a"/>
<circle cx="251.9" cy="66.6" r="2.55" fill="#cc0000"/>
<circle cx="251.9" cy="69.7" r="2.55" fill="#508232"/>
<circle cx="251.9" cy="72.5" r="2.55" fill="#a6a6a6"/>
<circle cx="251.9" cy="74.9" r="2.55" fill="#f0b030"/>
<circle cx="251.9" cy="78.1" r="2.55" fill="#7030a0"/>
<circle cx="251.9" cy="86.5" r="2.55" fill="#bccde9"/>
<circle cx="251.9" cy="89.6" r="2.55" fill="#8cc84a"/>
<circle cx="275.4" cy="58.8" r="2.55" fill="#508232"/>
<circle cx="275.4" cy="66.6" r="2.55" fill="#cc0000"/>
<circle cx="275.4" cy="64.4" r="2.55" fill="#bccde9"/>
<circle cx="275.4" cy="69.9" r="2.55" fill="#ffee00"/>
<circle cx="275.4" cy="75.6" r="2.55" fill="#7030a0"/>
<circle cx="275.4" cy="81.0" r="2.55" fill="#8cc84a"/>
<circle cx="300.7" cy="58.3" r="2.55" fill="#0070c0"/>
<circle cx="300.7" cy="70.6" r="2.55" fill="#f0b030"/>
<circle cx="300.7" cy="72.8" r="2.55" fill="#cc0000"/>
<circle cx="300.7" cy="68.0" r="2.55" fill="#bccde9"/>
<circle cx="300.7" cy="63.9" r="2.55" fill="#508232"/>
<circle cx="300.7" cy="60.9" r="2.55" fill="#ffee00"/>
<circle cx="338.2" cy="61.4" r="2.55" fill="#ffee00"/>
<circle cx="338.2" cy="72.3" r="2.55" fill="#bccde9"/>
<circle cx="338.2" cy="67.3" r="2.55" fill="#508232"/>
</g>
<text x="278.6" y="145.50" font-size="8.3" font-family="Liberation Sans, sans-serif" fill="#262626" stroke="#262626" stroke-width="0.2"><tspan font-style="italic">t</tspan><tspan font-size="5.6" dy="2">1/2</tspan><tspan dy="-2"> = 115</tspan></text>
<text x="319.2" y="145.50" font-size="8.3" font-family="Liberation Sans, sans-serif" fill="#262626" stroke="#262626" stroke-width="0.2">r<tspan font-size="5.6" dy="-3">2</tspan><tspan dy="3"> = 0.98</tspan></text>
<text x="278.6" y="155.82" font-size="8.3" font-family="Liberation Sans, sans-serif" fill="#3a64a8" stroke="#3a64a8" stroke-width="0.2"><tspan font-style="italic">t</tspan><tspan font-size="5.6" dy="2">1/2</tspan><tspan dy="-2"> = 99</tspan></text>
<text x="319.2" y="155.82" font-size="8.3" font-family="Liberation Sans, sans-serif" fill="#3a64a8" stroke="#3a64a8" stroke-width="0.2">r<tspan font-size="5.6" dy="-3">2</tspan><tspan dy="3"> = 0.97</tspan></text>
<text x="278.6" y="166.14" font-size="8.3" font-family="Liberation Sans, sans-serif" fill="#4a6a30" stroke="#4a6a30" stroke-width="0.2"><tspan font-style="italic">t</tspan><tspan font-size="5.6" dy="2">1/2</tspan><tspan dy="-2"> = 135</tspan></text>
<text x="319.2" y="166.14" font-size="8.3" font-family="Liberation Sans, sans-serif" fill="#4a6a30" stroke="#4a6a30" stroke-width="0.2">r<tspan font-size="5.6" dy="-3">2</tspan><tspan dy="3"> = 0.97</tspan></text>
<text x="278.6" y="176.46" font-size="8.3" font-family="Liberation Sans, sans-serif" fill="#7a3cb0" stroke="#7a3cb0" stroke-width="0.2"><tspan font-style="italic">t</tspan><tspan font-size="5.6" dy="2">1/2</tspan><tspan dy="-2"> = 132</tspan></text>
<text x="319.2" y="176.46" font-size="8.3" font-family="Liberation Sans, sans-serif" fill="#7a3cb0" stroke="#7a3cb0" stroke-width="0.2">r<tspan font-size="5.6" dy="-3">2</tspan><tspan dy="3"> = 0.99</tspan></text>
<text x="278.6" y="186.78" font-size="8.3" font-family="Liberation Sans, sans-serif" fill="#c01818" stroke="#c01818" stroke-width="0.2"><tspan font-style="italic">t</tspan><tspan font-size="5.6" dy="2">1/2</tspan><tspan dy="-2"> = 149</tspan></text>
<text x="319.2" y="186.78" font-size="8.3" font-family="Liberation Sans, sans-serif" fill="#c01818" stroke="#c01818" stroke-width="0.2">r<tspan font-size="5.6" dy="-3">2</tspan><tspan dy="3"> = 0.98</tspan></text>
<text x="278.6" y="197.10" font-size="8.3" font-family="Liberation Sans, sans-serif" fill="#808080" stroke="#808080" stroke-width="0.2"><tspan font-style="italic">t</tspan><tspan font-size="5.6" dy="2">1/2</tspan><tspan dy="-2"> = 185</tspan></text>
<text x="319.2" y="197.10" font-size="8.3" font-family="Liberation Sans, sans-serif" fill="#808080" stroke="#808080" stroke-width="0.2">r<tspan font-size="5.6" dy="-3">2</tspan><tspan dy="3"> = 0.98</tspan></text>
<text x="278.6" y="207.42" font-size="8.3" font-family="Liberation Sans, sans-serif" fill="#c8c030" stroke="#c8c030" stroke-width="0.2"><tspan font-style="italic">t</tspan><tspan font-size="5.6" dy="2">1/2</tspan><tspan dy="-2"> = 189</tspan></text>
<text x="319.2" y="207.42" font-size="8.3" font-family="Liberation Sans, sans-serif" fill="#c8c030" stroke="#c8c030" stroke-width="0.2">r<tspan font-size="5.6" dy="-3">2</tspan><tspan dy="3"> = 0.99</tspan></text>
<text x="278.6" y="217.74" font-size="8.3" font-family="Liberation Sans, sans-serif" fill="#a8802a" stroke="#a8802a" stroke-width="0.2"><tspan font-style="italic">t</tspan><tspan font-size="5.6" dy="2">1/2</tspan><tspan dy="-2"> = 151</tspan></text>
<text x="319.2" y="217.74" font-size="8.3" font-family="Liberation Sans, sans-serif" fill="#a8802a" stroke="#a8802a" stroke-width="0.2">r<tspan font-size="5.6" dy="-3">2</tspan><tspan dy="3"> = 0.99</tspan></text>
<text x="278.6" y="228.06" font-size="8.3" font-family="Liberation Sans, sans-serif" fill="#8faadc" stroke="#8faadc" stroke-width="0.2"><tspan font-style="italic">t</tspan><tspan font-size="5.6" dy="2">1/2</tspan><tspan dy="-2"> = 239</tspan></text>
<text x="319.2" y="228.06" font-size="8.3" font-family="Liberation Sans, sans-serif" fill="#8faadc" stroke="#8faadc" stroke-width="0.2">r<tspan font-size="5.6" dy="-3">2</tspan><tspan dy="3"> = 0.98</tspan></text>
<text x="278.6" y="238.38" font-size="8.3" font-family="Liberation Sans, sans-serif" fill="#8cc05a" stroke="#8cc05a" stroke-width="0.2"><tspan font-style="italic">t</tspan><tspan font-size="5.6" dy="2">1/2</tspan><tspan dy="-2"> = 193</tspan></text>
<text x="319.2" y="238.38" font-size="8.3" font-family="Liberation Sans, sans-serif" fill="#8cc05a" stroke="#8cc05a" stroke-width="0.2">r<tspan font-size="5.6" dy="-3">2</tspan><tspan dy="3"> = 0.97</tspan></text>
<g fill="#000">
<circle cx="376.7" cy="217.6" r="1.85"/>
<circle cx="376.7" cy="220.2" r="1.85"/>
<circle cx="376.7" cy="222.7" r="1.85"/>
<circle cx="376.7" cy="225.3" r="1.85"/>
<circle cx="376.7" cy="227.9" r="1.85"/>
<circle cx="376.7" cy="230.4" r="1.85"/>
<circle cx="376.7" cy="233.0" r="1.85"/>
<circle cx="376.7" cy="235.6" r="1.85"/>
<circle cx="376.7" cy="205.6" r="1.85"/>
<circle cx="386.1" cy="169.8" r="1.85"/>
<circle cx="386.1" cy="197.8" r="1.85"/>
<circle cx="386.1" cy="200.0" r="1.85"/>
<circle cx="386.1" cy="202.3" r="1.85"/>
<circle cx="386.1" cy="208.3" r="1.85"/>
<circle cx="386.1" cy="216.7" r="1.85"/>
<circle cx="408.0" cy="164.1" r="1.85"/>
<circle cx="408.0" cy="191.6" r="1.85"/>
<circle cx="408.0" cy="194.4" r="1.85"/>
<circle cx="420.4" cy="122.6" r="1.85"/>
<circle cx="420.4" cy="155.6" r="1.85"/>
<circle cx="420.4" cy="169.5" r="1.85"/>
<circle cx="420.4" cy="175.2" r="1.85"/>
<circle cx="420.4" cy="180.9" r="1.85"/>
<circle cx="433.1" cy="122.5" r="1.85"/>
<circle cx="433.1" cy="128.4" r="1.85"/>
<circle cx="433.1" cy="130.8" r="1.85"/>
<circle cx="433.1" cy="136.4" r="1.85"/>
<circle cx="433.1" cy="139.2" r="1.85"/>
<circle cx="433.1" cy="142.0" r="1.85"/>
<circle cx="433.1" cy="144.9" r="1.85"/>
<circle cx="433.1" cy="150.0" r="1.85"/>
<circle cx="433.1" cy="158.7" r="1.85"/>
<circle cx="433.1" cy="163.9" r="1.85"/>
<circle cx="433.1" cy="169.9" r="1.85"/>
<circle cx="433.1" cy="172.3" r="1.85"/>
<circle cx="433.1" cy="174.8" r="1.85"/>
<circle cx="477.3" cy="89.2" r="1.85"/>
<circle cx="477.3" cy="95.1" r="1.85"/>
<circle cx="477.3" cy="106.0" r="1.85"/>
<circle cx="477.3" cy="108.9" r="1.85"/>
<circle cx="477.3" cy="114.0" r="1.85"/>
<circle cx="477.3" cy="119.6" r="1.85"/>
<circle cx="477.3" cy="125.1" r="1.85"/>
<circle cx="477.3" cy="130.7" r="1.85"/>
<circle cx="477.3" cy="136.9" r="1.85"/>
<circle cx="477.3" cy="138.6" r="1.85"/>
<circle cx="477.3" cy="153.0" r="1.85"/>
<circle cx="503.6" cy="83.7" r="1.85"/>
<circle cx="503.6" cy="91.8" r="1.85"/>
<circle cx="503.6" cy="94.7" r="1.85"/>
<circle cx="503.6" cy="100.3" r="1.85"/>
<circle cx="503.6" cy="103.1" r="1.85"/>
<circle cx="503.6" cy="106.0" r="1.85"/>
<circle cx="503.6" cy="111.3" r="1.85"/>
<circle cx="503.6" cy="113.9" r="1.85"/>
<circle cx="503.6" cy="116.5" r="1.85"/>
<circle cx="503.6" cy="122.6" r="1.85"/>
<circle cx="517.9" cy="69.6" r="1.85"/>
<circle cx="517.9" cy="72.8" r="1.85"/>
<circle cx="517.9" cy="77.9" r="1.85"/>
<circle cx="517.9" cy="83.7" r="1.85"/>
<circle cx="517.9" cy="103.2" r="1.85"/>
<circle cx="517.9" cy="117.0" r="1.85"/>
<circle cx="543.9" cy="64.2" r="1.85"/>
<circle cx="543.9" cy="72.9" r="1.85"/>
<circle cx="543.9" cy="75.1" r="1.85"/>
<circle cx="543.9" cy="77.3" r="1.85"/>
<circle cx="543.9" cy="79.4" r="1.85"/>
<circle cx="543.9" cy="81.0" r="1.85"/>
<circle cx="543.9" cy="87.0" r="1.85"/>
<circle cx="543.9" cy="89.3" r="1.85"/>
<circle cx="543.9" cy="103.2" r="1.85"/>
<circle cx="575.3" cy="66.7" r="1.85"/>
<circle cx="575.3" cy="69.1" r="1.85"/>
<circle cx="575.3" cy="71.4" r="1.85"/>
<circle cx="575.3" cy="73.4" r="1.85"/>
<circle cx="575.3" cy="75.8" r="1.85"/>
<circle cx="575.3" cy="78.1" r="1.85"/>
<circle cx="575.3" cy="86.1" r="1.85"/>
<circle cx="575.3" cy="88.8" r="1.85"/>
<circle cx="575.3" cy="97.2" r="1.85"/>
<circle cx="599.1" cy="58.5" r="1.85"/>
<circle cx="599.1" cy="64.9" r="1.85"/>
<circle cx="599.1" cy="67.4" r="1.85"/>
<circle cx="599.1" cy="69.9" r="1.85"/>
<circle cx="599.1" cy="72.4" r="1.85"/>
<circle cx="599.1" cy="74.9" r="1.85"/>
<circle cx="599.1" cy="81.0" r="1.85"/>
<circle cx="624.3" cy="59.3" r="1.85"/>
<circle cx="624.3" cy="61.9" r="1.85"/>
<circle cx="624.3" cy="64.5" r="1.85"/>
<circle cx="624.3" cy="67.1" r="1.85"/>
<circle cx="624.3" cy="69.7" r="1.85"/>
<circle cx="624.3" cy="72.3" r="1.85"/>
<circle cx="662.0" cy="61.4" r="1.85"/>
<circle cx="662.0" cy="67.5" r="1.85"/>
<circle cx="662.0" cy="69.9" r="1.85"/>
<circle cx="662.0" cy="72.3" r="1.85"/>
</g>
<clipPath id="cb"><rect x="376.9" y="26.05" width="299.20" height="221.45"/></clipPath>
<g clip-path="url(#cb)">
<path d="M376.90,196.84 L377.65,195.57 L378.40,194.30 L379.14,193.04 L379.89,191.79 L380.64,190.55 L381.39,189.32 L382.14,188.10 L382.88,186.89 L383.63,185.69 L384.38,184.50 L385.13,183.31 L385.88,182.14 L386.62,180.97 L387.37,179.82 L388.12,178.67 L388.87,177.53 L389.62,176.40 L390.36,175.28 L391.11,174.16 L391.86,173.06 L392.61,171.96 L393.36,170.87 L394.10,169.79 L394.85,168.72 L395.60,167.66 L396.35,166.60 L397.10,165.56 L397.84,164.52 L398.59,163.49 L399.34,162.46 L400.09,161.45 L400.84,160.44 L401.58,159.44 L402.33,158.45 L403.08,157.46 L403.83,156.49 L404.58,155.52 L405.32,154.55 L406.07,153.60 L406.82,152.65 L407.57,151.71 L408.32,150.78 L409.06,149.85 L409.81,148.93 L410.56,148.02 L411.31,147.11 L412.06,146.22 L412.80,145.32 L413.55,144.44 L414.30,143.56 L416.17,141.40 L418.04,139.27 L419.91,137.19 L421.78,135.14 L423.65,133.14 L425.52,131.17 L427.39,129.24 L429.26,127.34 L431.13,125.49 L433.00,123.66 L434.87,121.87 L436.74,120.12 L438.61,118.40 L440.48,116.71 L442.35,115.05 L444.22,113.43 L446.09,111.83 L447.96,110.27 L449.83,108.74 L451.70,107.23 L453.57,105.75 L455.44,104.31 L457.31,102.88 L459.18,101.49 L461.05,100.12 L462.92,98.78 L464.79,97.46 L466.66,96.17 L468.53,94.91 L470.40,93.66 L472.27,92.44 L474.14,91.25 L476.01,90.07 L477.88,88.92 L479.75,87.79 L481.62,86.69 L483.49,85.60 L485.36,84.53 L487.23,83.49 L489.10,82.46 L490.97,81.45 L492.84,80.47 L494.71,79.50 L496.58,78.55 L498.45,77.61 L500.32,76.70 L502.19,75.80 L504.06,74.92 L505.93,74.06 L507.80,73.21 L509.67,72.38 L511.54,71.56 L513.41,70.76 L515.28,69.98 L517.15,69.21 L519.02,68.45 L520.89,67.71 L522.76,66.98 L524.63,66.27 L526.50,65.57 L528.37,64.88 L530.24,64.21 L532.11,63.55 L533.98,62.90 L535.85,62.26 L537.72,61.64 L539.59,61.03 L541.46,60.43 L543.33,59.84 L545.20,59.26 L547.07,58.69 L548.94,58.14 L550.81,57.59 L552.68,57.06 L554.55,56.53 L556.42,56.02 L558.29,55.51 L560.16,55.02 L562.03,54.53 L563.90,54.05 L565.77,53.58 L567.64,53.13 L569.51,52.68 L571.38,52.23 L573.25,51.80 L575.12,51.37 L576.99,50.96 L578.86,50.55 L580.73,50.15 L582.60,49.75 L584.47,49.37 L586.34,48.99 L588.21,48.61 L590.08,48.25 L591.95,47.89 L593.82,47.54 L595.69,47.20 L597.56,46.86 L599.43,46.53 L601.30,46.20 L603.17,45.88 L605.04,45.57 L606.91,45.26 L608.78,44.96 L610.65,44.66 L612.52,44.37 L614.39,44.09 L616.26,43.81 L618.13,43.54 L620.00,43.27 L621.87,43.00 L623.74,42.75 L625.61,42.49 L627.48,42.24 L629.35,42.00 L631.22,41.76 L633.09,41.52 L634.96,41.29 L636.83,41.07 L638.70,40.85 L640.57,40.63 L642.44,40.42 L644.31,40.21 L646.18,40.00 L648.05,39.80 L649.92,39.60 L651.79,39.41 L653.66,39.22 L655.53,39.03 L657.40,38.85 L659.27,38.67 L661.14,38.49 L663.01,38.32 L664.88,38.15 L666.75,37.98 L668.62,37.82 L670.49,37.66 L672.36,37.50 L674.23,37.35 L676.10,37.20" fill="none" stroke="#c4c4c4" stroke-width="1" stroke-dasharray="3.2,2.6"/>
<path d="M376.90,247.78 L377.65,246.50 L378.40,245.23 L379.14,243.97 L379.89,242.72 L380.64,241.48 L381.39,240.25 L382.14,239.03 L382.88,237.82 L383.63,236.62 L384.38,235.43 L385.13,234.25 L385.88,233.07 L386.62,231.91 L387.37,230.75 L388.12,229.60 L388.87,228.46 L389.62,227.33 L390.36,226.21 L391.11,225.10 L391.86,223.99 L392.61,222.90 L393.36,221.81 L394.10,220.73 L394.85,219.66 L395.60,218.59 L396.35,217.54 L397.10,216.49 L397.84,215.45 L398.59,214.42 L399.34,213.40 L400.09,212.38 L400.84,211.37 L401.58,210.37 L402.33,209.38 L403.08,208.40 L403.83,207.42 L404.58,206.45 L405.32,205.49 L406.07,204.53 L406.82,203.58 L407.57,202.64 L408.32,201.71 L409.06,200.78 L409.81,199.86 L410.56,198.95 L411.31,198.05 L412.06,197.15 L412.80,196.26 L413.55,195.37 L414.30,194.49 L416.17,192.33 L418.04,190.20 L419.91,188.12 L421.78,186.08 L423.65,184.07 L425.52,182.10 L427.39,180.17 L429.26,178.28 L431.13,176.42 L433.00,174.60 L434.87,172.81 L436.74,171.05 L438.61,169.33 L440.48,167.64 L442.35,165.99 L444.22,164.36 L446.09,162.77 L447.96,161.20 L449.83,159.67 L451.70,158.16 L453.57,156.69 L455.44,155.24 L457.31,153.82 L459.18,152.42 L461.05,151.06 L462.92,149.71 L464.79,148.40 L466.66,147.11 L468.53,145.84 L470.40,144.60 L472.27,143.38 L474.14,142.18 L476.01,141.01 L477.88,139.86 L479.75,138.73 L481.62,137.62 L483.49,136.53 L485.36,135.47 L487.23,134.42 L489.10,133.39 L490.97,132.39 L492.84,131.40 L494.71,130.43 L496.58,129.48 L498.45,128.55 L500.32,127.63 L502.19,126.73 L504.06,125.85 L505.93,124.99 L507.80,124.14 L509.67,123.31 L511.54,122.50 L513.41,121.69 L515.28,120.91 L517.15,120.14 L519.02,119.38 L520.89,118.64 L522.76,117.92 L524.63,117.20 L526.50,116.50 L528.37,115.82 L530.24,115.14 L532.11,114.48 L533.98,113.83 L535.85,113.20 L537.72,112.57 L539.59,111.96 L541.46,111.36 L543.33,110.77 L545.20,110.20 L547.07,109.63 L548.94,109.07 L550.81,108.53 L552.68,107.99 L554.55,107.47 L556.42,106.95 L558.29,106.45 L560.16,105.95 L562.03,105.46 L563.90,104.99 L565.77,104.52 L567.64,104.06 L569.51,103.61 L571.38,103.17 L573.25,102.73 L575.12,102.31 L576.99,101.89 L578.86,101.48 L580.73,101.08 L582.60,100.69 L584.47,100.30 L586.34,99.92 L588.21,99.55 L590.08,99.18 L591.95,98.82 L593.82,98.47 L595.69,98.13 L597.56,97.79 L599.43,97.46 L601.30,97.13 L603.17,96.81 L605.04,96.50 L606.91,96.19 L608.78,95.89 L610.65,95.60 L612.52,95.31 L614.39,95.02 L616.26,94.74 L618.13,94.47 L620.00,94.20 L621.87,93.94 L623.74,93.68 L625.61,93.43 L627.48,93.18 L629.35,92.93 L631.22,92.69 L633.09,92.46 L634.96,92.23 L636.83,92.00 L638.70,91.78 L640.57,91.56 L642.44,91.35 L644.31,91.14 L646.18,90.93 L648.05,90.73 L649.92,90.53 L651.79,90.34 L653.66,90.15 L655.53,89.96 L657.40,89.78 L659.27,89.60 L661.14,89.42 L663.01,89.25 L664.88,89.08 L666.75,88.92 L668.62,88.75 L670.49,88.59 L672.36,88.43 L674.23,88.28 L676.10,88.13" fill="none" stroke="#c4c4c4" stroke-width="1" stroke-dasharray="3.2,2.6"/>
<path d="M376.90,222.03 L377.65,220.76 L378.40,219.49 L379.14,218.23 L379.89,216.98 L380.64,215.74 L381.39,214.51 L382.14,213.29 L382.88,212.08 L383.63,210.88 L384.38,209.69 L385.13,208.50 L385.88,207.33 L386.62,206.16 L387.37,205.01 L388.12,203.86 L388.87,202.72 L389.62,201.59 L390.36,200.47 L391.11,199.35 L391.86,198.25 L392.61,197.15 L393.36,196.06 L394.10,194.98 L394.85,193.91 L395.60,192.85 L396.35,191.79 L397.10,190.75 L397.84,189.71 L398.59,188.68 L399.34,187.65 L400.09,186.64 L400.84,185.63 L401.58,184.63 L402.33,183.64 L403.08,182.65 L403.83,181.68 L404.58,180.71 L405.32,179.74 L406.07,178.79 L406.82,177.84 L407.57,176.90 L408.32,175.97 L409.06,175.04 L409.81,174.12 L410.56,173.21 L411.31,172.30 L412.06,171.41 L412.80,170.51 L413.55,169.63 L414.30,168.75 L416.17,166.59 L418.04,164.46 L419.91,162.38 L421.78,160.33 L423.65,158.33 L425.52,156.36 L427.39,154.43 L429.26,152.53 L431.13,150.68 L433.00,148.85 L434.87,147.06 L436.74,145.31 L438.61,143.59 L440.48,141.90 L442.35,140.24 L444.22,138.62 L446.09,137.02 L447.96,135.46 L449.83,133.93 L451.70,132.42 L453.57,130.94 L455.44,129.50 L457.31,128.07 L459.18,126.68 L461.05,125.31 L462.92,123.97 L464.79,122.65 L466.66,121.36 L468.53,120.10 L470.40,118.85 L472.27,117.63 L474.14,116.44 L476.01,115.26 L477.88,114.11 L479.75,112.98 L481.62,111.88 L483.49,110.79 L485.36,109.72 L487.23,108.68 L489.10,107.65 L490.97,106.64 L492.84,105.66 L494.71,104.69 L496.58,103.74 L498.45,102.80 L500.32,101.89 L502.19,100.99 L504.06,100.11 L505.93,99.25 L507.80,98.40 L509.67,97.57 L511.54,96.75 L513.41,95.95 L515.28,95.17 L517.15,94.40 L519.02,93.64 L520.89,92.90 L522.76,92.17 L524.63,91.46 L526.50,90.76 L528.37,90.07 L530.24,89.40 L532.11,88.74 L533.98,88.09 L535.85,87.45 L537.72,86.83 L539.59,86.22 L541.46,85.62 L543.33,85.03 L545.20,84.45 L547.07,83.88 L548.94,83.33 L550.81,82.78 L552.68,82.25 L554.55,81.72 L556.42,81.21 L558.29,80.70 L560.16,80.21 L562.03,79.72 L563.90,79.24 L565.77,78.77 L567.64,78.32 L569.51,77.87 L571.38,77.42 L573.25,76.99 L575.12,76.56 L576.99,76.15 L578.86,75.74 L580.73,75.34 L582.60,74.94 L584.47,74.56 L586.34,74.18 L588.21,73.80 L590.08,73.44 L591.95,73.08 L593.82,72.73 L595.69,72.39 L597.56,72.05 L599.43,71.72 L601.30,71.39 L603.17,71.07 L605.04,70.76 L606.91,70.45 L608.78,70.15 L610.65,69.85 L612.52,69.56 L614.39,69.28 L616.26,69.00 L618.13,68.73 L620.00,68.46 L621.87,68.19 L623.74,67.94 L625.61,67.68 L627.48,67.43 L629.35,67.19 L631.22,66.95 L633.09,66.71 L634.96,66.48 L636.83,66.26 L638.70,66.04 L640.57,65.82 L642.44,65.61 L644.31,65.40 L646.18,65.19 L648.05,64.99 L649.92,64.79 L651.79,64.60 L653.66,64.41 L655.53,64.22 L657.40,64.04 L659.27,63.86 L661.14,63.68 L663.01,63.51 L664.88,63.34 L666.75,63.17 L668.62,63.01 L670.49,62.85 L672.36,62.69 L674.23,62.54 L676.10,62.39" fill="none" stroke="#808080" stroke-width="1.5"/>
</g>
<path d="M376.9,219.82 h3.2 M676.1,219.82 h-3.2 M376.9,192.14 h3.2 M676.1,192.14 h-3.2 M376.9,164.46 h3.2 M676.1,164.46 h-3.2 M376.9,136.78 h3.2 M676.1,136.78 h-3.2 M376.9,109.09 h3.2 M676.1,109.09 h-3.2 M376.9,81.41 h3.2 M676.1,81.41 h-3.2 M376.9,53.73 h3.2 M676.1,53.73 h-3.2 M451.70,247.5 v-3.2 M451.70,26.05 v3.2 M526.50,247.5 v-3.2 M526.50,26.05 v3.2 M601.30,247.5 v-3.2 M601.30,26.05 v3.2" stroke="#000" stroke-width="1" fill="none"/>
<rect x="376.9" y="26.05" width="299.20" height="221.45" fill="none" stroke="#111" stroke-width="1.5"/>
<circle cx="377.5" cy="194.6" r="2.0" fill="#fff" stroke="#000" stroke-width="0.9"/>
<text x="595.6" y="231.8" font-size="8.3" font-family="Liberation Sans, sans-serif" fill="#333" stroke="#333" stroke-width="0.2"><tspan font-style="italic">t</tspan><tspan font-size="5.6" dy="2">1/2</tspan><tspan dy="-2"> = 181</tspan></text>
<text x="637.0" y="231.8" font-size="8.3" font-family="Liberation Sans, sans-serif" fill="#333" stroke="#333" stroke-width="0.2">r<tspan font-size="5.6" dy="-3">2</tspan><tspan dy="3"> = 0.94</tspan></text>
</svg></body></html>
